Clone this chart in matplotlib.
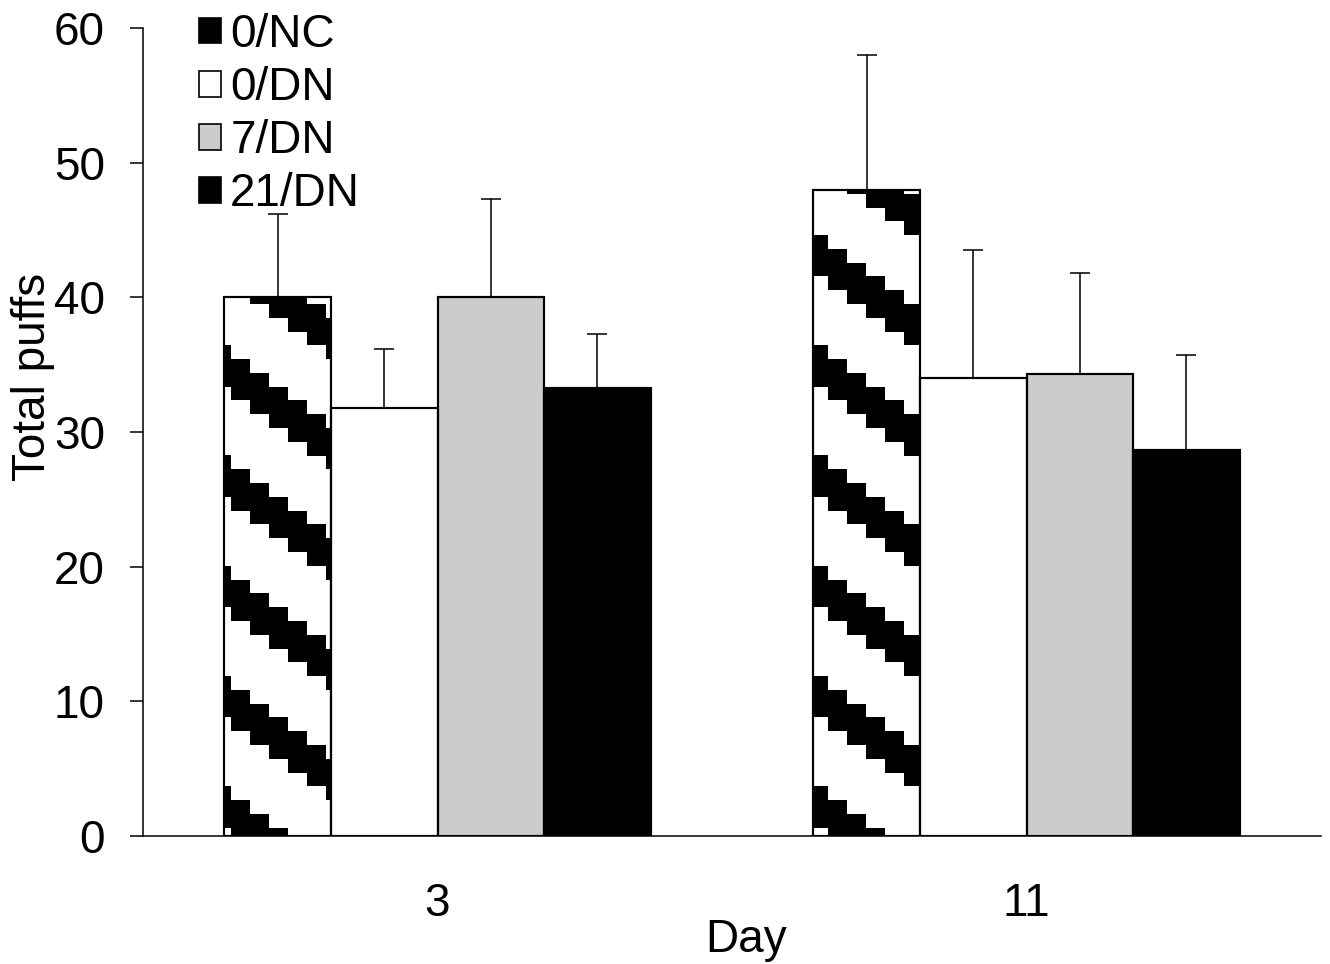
import matplotlib
matplotlib.use("Agg")
import matplotlib.pyplot as plt
from matplotlib.patches import Rectangle, Patch
from matplotlib.transforms import IdentityTransform
import numpy as np

plt.rcParams['font.family'] = ['Liberation Sans', 'DejaVu Sans']

# ---- data ----
days = ["3", "11"]
series = ["0/NC", "0/DN", "7/DN", "21/DN"]
vals_0NC = [40.0, 48.0]
vals_0DN = [31.8, 34.0]
vals_7DN = [40.0, 34.3]
vals_21DN = [33.3, 28.7]
err_0NC = [6.2, 10.0]
err_0DN = [4.4, 9.5]
err_7DN = [7.3, 7.5]
err_21DN = [4.0, 7.0]
y_ticks = [0, 10, 20, 30, 40, 50, 60]

values = [vals_0NC, vals_0DN, vals_7DN, vals_21DN]
errors = [err_0NC, err_0DN, err_7DN, err_21DN]
faces = ["white", "white", "#cccccc", "black"]

W, H = 1330, 964
FS = 33
fig = plt.figure(figsize=(W / 100, H / 100), dpi=100)
ax = fig.add_axes([143 / W, 1 - 836 / H, (1321 - 143) / W, (836 - 28) / H])

x = np.arange(len(days))
bw = 0.181
bars_all = []
for i, (v, e, fc) in enumerate(zip(values, errors, faces)):
    pos = x + (i - 1.5) * bw
    bars = ax.bar(pos, v, width=bw, color=fc, edgecolor="black", linewidth=1.5, zorder=2)
    bars_all.append(bars)
    ax.bar(pos, v, width=bw, fill=False, edgecolor="black", linewidth=1.5, zorder=3.5)
    ax.errorbar(pos, v, yerr=[np.zeros(len(e)), e], fmt="none", ecolor="black",
                elinewidth=1.1, capsize=7, capthick=1.1, zorder=4)

ax.set_xlim(-0.5, 1.5)
ax.set_ylim(0, 60)
ax.set_yticks(y_ticks)
ax.set_xticks(x)
ax.set_xticklabels(days)
ax.tick_params(axis="y", direction="out", length=9.5, width=1.1, labelsize=FS, pad=18)
ax.tick_params(axis="x", length=0, labelsize=FS, pad=33)
for s in ["top", "right"]:
    ax.spines[s].set_visible(False)
for s in ["left", "bottom"]:
    ax.spines[s].set_linewidth(1.1)

ax.set_xlabel("Day", fontsize=FS)
ax.xaxis.set_label_coords((746 - 143) / 1178, -0.101)
ax.set_ylabel("Total puffs", fontsize=FS)
ax.yaxis.set_label_coords(-0.075, 0.568)

# ---- staircase stripe pattern for the 0/NC bars ----
fig.canvas.draw()
step_dx, step_dy, period, thick = 19.0, 13.8, 110.25, 41.4
first_col = [7, 15]
for b, w0 in zip(bars_all[0], first_col):
    bb = b.get_window_extent()
    x0d, x1d, y0d, y1d = bb.x0, bb.x1, bb.y0, bb.y1
    cols = [(x0d, x0d + w0, 0)]
    xc = x0d + w0
    j = 1
    while xc < x1d:
        cols.append((xc, min(xc + step_dx, x1d), j))
        xc += step_dx
        j += 1
    for (xa, xb, j) in cols:
        for k in range(-2, 12):
            top = y0d + 36 + k * period - (j - 1) * step_dy
            bot = top - thick
            if top < y0d or bot > y1d:
                continue
            r = Rectangle((xa, bot), xb - xa, thick, transform=IdentityTransform(),
                          facecolor="black", edgecolor="none", zorder=3)
            r.set_clip_path(b)
            fig.add_artist(r)

# ---- legend ----
handles = [Patch(facecolor=fc, edgecolor="black", linewidth=1.2)
           for fc in ["black", "white", "#cccccc", "black"]]
leg = ax.legend(handles, series, loc="upper left", bbox_to_anchor=(199 / W, 1 - 13 / H),
                bbox_transform=fig.transFigure, frameon=False, fontsize=FS,
                handlelength=0.48, handleheight=0.48, handletextpad=0.2,
                labelspacing=0.2, borderpad=0, borderaxespad=0)

fig.savefig("out.png", dpi=100)
